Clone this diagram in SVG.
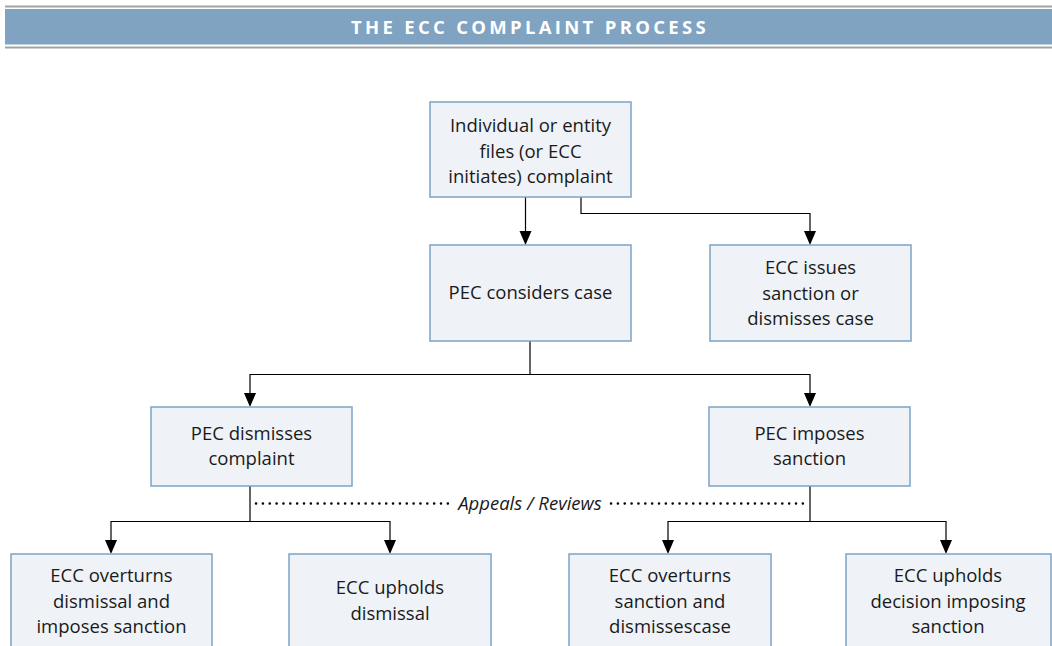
<svg xmlns="http://www.w3.org/2000/svg" width="1052" height="646" viewBox="0 0 1052 646">
<defs>
<style>
.box{fill:#eff3f7;stroke:#7ea4c6;stroke-width:1.5}
.t{font-family:"Open Sans","Noto Sans",sans-serif;font-size:18.5px;fill:#1a1a1a;text-anchor:middle}
.ln{fill:none;stroke:#000;stroke-width:1.2}
.dot{fill:none;stroke:#000;stroke-width:2.5;stroke-dasharray:0.1 6.75;stroke-linecap:round}
</style>
</defs>
<rect x="0" y="0" width="1052" height="646" fill="#fff"/>
<g id="title">
<rect x="5" y="5.5" width="1047" height="2" fill="#a3a3a3"/>
<rect x="5" y="9" width="1047" height="35.5" fill="#7fa3c1"/>
<rect x="5" y="46.5" width="1047" height="2" fill="#a3a3a3"/>
<text x="530" y="34" font-family="'Open Sans','Noto Sans',sans-serif" font-size="18.5" font-weight="bold" fill="#fff" text-anchor="middle" letter-spacing="3.3">THE ECC COMPLAINT PROCESS</text>
</g>
<g id="connectors">
<path class="ln" d="M525.5,197 V231"/>
<path d="M519.5,231 H531.5 L525.5,245 Z"/>
<path class="ln" d="M581,197 V213.5 H810 V231"/>
<path d="M804,231 H816 L810,245 Z"/>
<path class="ln" d="M530,341 V374.5 M250,393 V374.5 H810 V393"/>
<path d="M244,393 H256 L250,407 Z"/>
<path d="M804,393 H816 L810,407 Z"/>
<path class="ln" d="M250,486 V521.5 M111,540 V521.5 H390 V540"/>
<path d="M105,540 H117 L111,554 Z"/>
<path d="M384,540 H396 L390,554 Z"/>
<path class="ln" d="M810,486 V521.5 M668,540 V521.5 H946 V540"/>
<path d="M662,540 H674 L668,554 Z"/>
<path d="M940,540 H952 L946,554 Z"/>
<path class="dot" d="M256,503.5 H452"/>
<path class="dot" d="M611,503.5 H805"/>
<text x="530" y="509.5" class="t" font-style="italic">Appeals / Reviews</text>
</g>
<g id="n1"><rect class="box" x="430" y="102" width="201" height="95"/>
<text class="t" x="530.5" y="132">Individual or entity</text><text class="t" x="530.5" y="157.5">files (or ECC</text><text class="t" x="530.5" y="183">initiates) complaint</text></g>
<g id="n2"><rect class="box" x="430" y="245" width="201" height="96"/>
<text class="t" x="530.5" y="299">PEC considers case</text></g>
<g id="n3"><rect class="box" x="710" y="245" width="201" height="96"/>
<text class="t" x="810.5" y="274">ECC issues</text><text class="t" x="810.5" y="299.5">sanction or</text><text class="t" x="810.5" y="325">dismisses case</text></g>
<g id="n4"><rect class="box" x="151" y="407" width="201" height="79"/>
<text class="t" x="251.5" y="440">PEC dismisses</text><text class="t" x="251.5" y="465">complaint</text></g>
<g id="n5"><rect class="box" x="709" y="407" width="201" height="79"/>
<text class="t" x="809.5" y="440">PEC imposes</text><text class="t" x="809.5" y="465">sanction</text></g>
<g id="n6"><rect class="box" x="11" y="554" width="201" height="100"/>
<text class="t" x="111.5" y="582">ECC overturns</text><text class="t" x="111.5" y="607.5">dismissal and</text><text class="t" x="111.5" y="633">imposes sanction</text></g>
<g id="n7"><rect class="box" x="289" y="554" width="202" height="100"/>
<text class="t" x="390" y="594">ECC upholds</text><text class="t" x="390" y="619.5">dismissal</text></g>
<g id="n8"><rect class="box" x="569" y="554" width="202" height="100"/>
<text class="t" x="670" y="582">ECC overturns</text><text class="t" x="670" y="607.5">sanction and</text><text class="t" x="670" y="633">dismissescase</text></g>
<g id="n9"><rect class="box" x="846" y="554" width="205" height="100"/>
<text class="t" x="948" y="582">ECC upholds</text><text class="t" x="948" y="607.5">decision imposing</text><text class="t" x="948" y="633">sanction</text></g>
</svg>
